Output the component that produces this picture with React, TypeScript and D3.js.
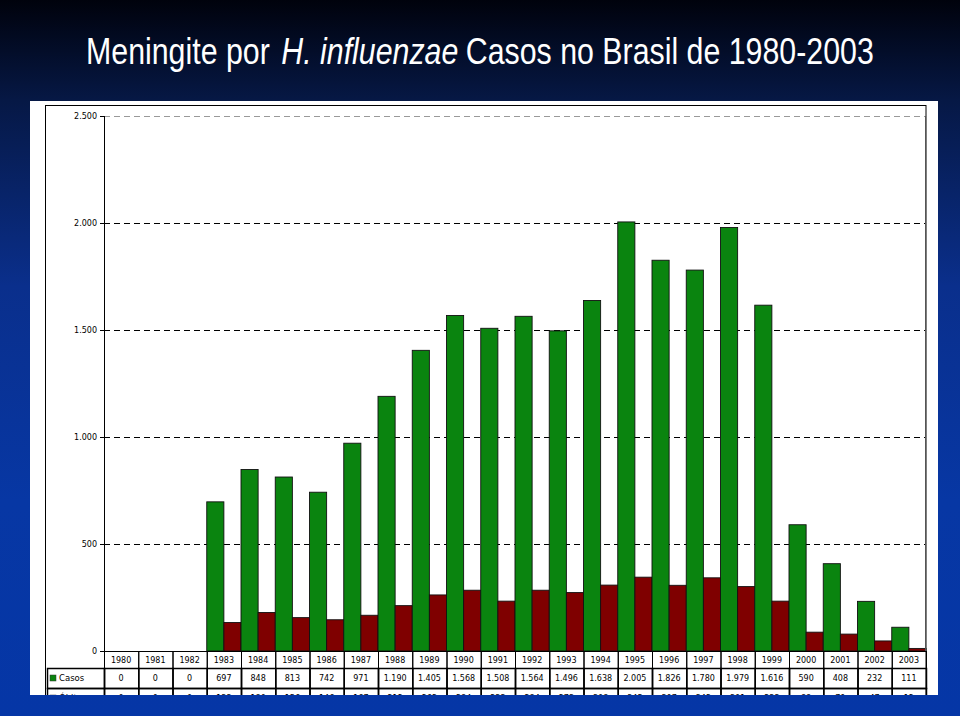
import React from "react";
import * as d3 from "d3";

// data
const years = ["1980", "1981", "1982", "1983", "1984", "1985", "1986", "1987", "1988", "1989", "1990", "1991",
  "1992", "1993", "1994", "1995", "1996", "1997", "1998", "1999", "2000", "2001", "2002", "2003"];
const casos = [0, 0, 0, 697, 848, 813, 742, 971, 1190, 1405, 1568, 1508, 1564, 1496, 1638, 2005, 1826, 1780, 1979, 1616, 590, 408, 232, 111];
const obitos = [0, 0, 0, 133, 180, 156, 146, 167, 212, 262, 284, 233, 284, 273, 308, 345, 307, 342, 301, 233, 88, 79, 47, 12];
const yTicks = [0, 500, 1000, 1500, 2000, 2500];
const seriesNames = ["Casos", "Óbitos"];
const seriesColors = ["#0a840f", "#7f0000"];

const W = 960;
const H = 716;

// pt-BR style thousands separator
const fmt = (v: number) => (v === 0 ? "0" : d3.format(",")(v).replace(/,/g, "."));

export default function App() {
  const x = d3.scaleBand<string>().domain(years).range([104, 926]).padding(0);
  const inner = d3.scaleBand<string>().domain(seriesNames).range([0, x.bandwidth()]).padding(0);
  const y = d3.scaleLinear().domain([0, 2500]).range([651, 116]);

  const series = [casos, obitos];
  const tableFont = "'DejaVu Sans', Verdana, sans-serif";
  const rowTop = [651, 668, 688, 708];

  return (
    <svg width={W} height={H} style={{ position: "absolute", left: 0, top: 0 }}>
      <defs>
        <linearGradient id="bg" x1="0" y1="0" x2="0" y2="1">
          <stop offset="0%" stopColor="#00020c" />
          <stop offset="14%" stopColor="#061845" />
          <stop offset="40%" stopColor="#0a2f8c" />
          <stop offset="70%" stopColor="#0737a4" />
          <stop offset="100%" stopColor="#0536a6" />
        </linearGradient>
        <clipPath id="panel">
          <rect x={30} y={101} width={908} height={594} />
        </clipPath>
      </defs>
      <rect x={0} y={0} width={W} height={H} fill="url(#bg)" />

      {/* no narrow font installed, so squeeze the title horizontally */}
      <g transform="translate(86,64) scale(0.82,1)">
        <text x={0} y={0} fill="#fff" fontSize={37} fontFamily="'Liberation Sans', Arial, sans-serif">
          <tspan>Meningite por</tspan>
          <tspan dx={14} fontStyle="italic">H. influenzae</tspan>
          <tspan dx={9}>Casos no Brasil de 1980-2003</tspan>
        </text>
      </g>

      <g clipPath="url(#panel)">
        <rect x={30} y={101} width={908} height={620} fill="#fff" />
        <rect x={45.5} y={105.5} width={880.5} height={620} fill="none" stroke="#000" strokeWidth={1} />

        {/* gridlines */}
        {yTicks.filter((t) => t > 0).map((t) => (
          <line key={t} x1={104} x2={926} y1={Math.round(y(t)) + 0.5} y2={Math.round(y(t)) + 0.5}
            stroke={t === 2500 ? "#999" : "#000"} strokeWidth={1} strokeDasharray="6,4" />
        ))}

        {/* bars */}
        {years.map((yr, i) => (
          <g key={yr}>
            {seriesNames.map((s, k) => {
              const v = series[k][i];
              if (v <= 0) return null;
              return (
                <rect key={s} x={(x(yr) as number) + (inner(s) as number)} y={y(v)}
                  width={inner.bandwidth()} height={y(0) - y(v)}
                  fill={seriesColors[k]} stroke="#111" strokeWidth={0.9} />
              );
            })}
          </g>
        ))}

        {/* axes */}
        <line x1={104.5} x2={104.5} y1={116} y2={651} stroke="#000" />
        <line x1={925.5} x2={925.5} y1={116} y2={651} stroke="#555" />
        {yTicks.map((t) => (
          <g key={t}>
            <line x1={100} x2={104} y1={Math.round(y(t)) + 0.5} y2={Math.round(y(t)) + 0.5} stroke="#000" />
            <text x={97} y={y(t) + 3} textAnchor="end" fontSize={8} fontFamily={tableFont} fill="#000">
              {fmt(t)}
            </text>
          </g>
        ))}

        {/* data table */}
        {years.map((yr) => {
          const x0 = x(yr) as number;
          return (
            <g key={yr}>
              <rect x={x0 + 0.5} y={rowTop[0] + 0.5} width={x.bandwidth()} height={rowTop[1] - rowTop[0]}
                fill="none" stroke="#000" />
              <text x={x0 + x.bandwidth() / 2} y={rowTop[0] + 12} textAnchor="middle" fontSize={8}
                fontFamily={tableFont} fill="#000">{yr}</text>
            </g>
          );
        })}
        {seriesNames.map((s, k) => {
          const top = rowTop[k + 1];
          const h = rowTop[k + 2] - top;
          return (
            <g key={s}>
              <rect x={47.5} y={top + 0.5} width={57} height={h} fill="none" stroke="#000" strokeWidth={1.5} />
              <rect x={50} y={top + 7} width={6} height={6} fill={seriesColors[k]} stroke="#333" strokeWidth={0.5} />
              <text x={59} y={top + 13} fontSize={8.5} fontFamily={tableFont} fill="#000">{s}</text>
              {years.map((yr, i) => {
                const x0 = x(yr) as number;
                return (
                  <g key={yr}>
                    <rect x={x0 + 0.5} y={top + 0.5} width={x.bandwidth()} height={h}
                      fill="none" stroke="#000" strokeWidth={1.5} />
                    <text x={x0 + x.bandwidth() / 2} y={top + 13} textAnchor="middle" fontSize={8}
                      fontFamily={tableFont} fill="#000">{fmt(series[k][i])}</text>
                  </g>
                );
              })}
            </g>
          );
        })}
      </g>
    </svg>
  );
}
